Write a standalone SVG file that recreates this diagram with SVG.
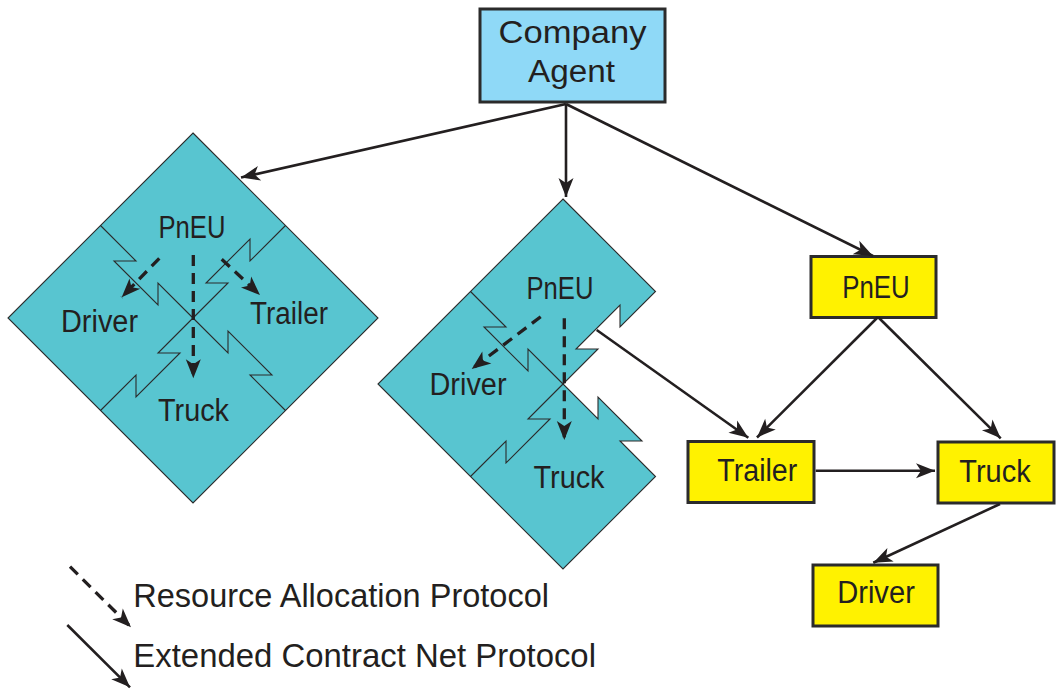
<svg xmlns="http://www.w3.org/2000/svg" width="1056" height="692" viewBox="0 0 1056 692">
<style>
.lbl{font-family:"Liberation Sans",Arial,sans-serif;font-size:31px;fill:#231f20;text-anchor:middle}
.leg{font-family:"Liberation Sans",Arial,sans-serif;font-size:33px;fill:#231f20}
.piece{fill:#58c5d0;stroke:#2b2b2b;stroke-width:1.1;stroke-linejoin:miter}
.seam{fill:none;stroke:#2b2b2b;stroke-width:1.1}
.box{stroke:#2b2b2b;stroke-width:3}
.solid{fill:none;stroke:#231f20;stroke-width:2.6;marker-end:url(#ah)}
.dash{fill:none;stroke:#231f20;stroke-width:3.3;stroke-dasharray:11 7;marker-end:url(#ah)}
</style>
<defs>
<marker id="ah" viewBox="-20 -9 21 18" refX="0" refY="0" markerWidth="21" markerHeight="18" markerUnits="userSpaceOnUse" orient="auto">
<path d="M0,0 L-19,-7.5 L-14,0 L-19,7.5 Z" fill="#231f20"/>
</marker>
</defs>
<rect width="1056" height="692" fill="#ffffff"/>

<g id="left-pneu-diamond" transform="translate(193,318)">
<polygon class="piece" points="0,-185 185,0 0,185 -185,0"/>
<path class="seam" d="M-92.5,-92.5 L-57,-57 L-79,-57 L-35,-13 L-35,-35 L0,0"/>
<path class="seam" d="M92.5,-92.5 L57,-57 L57,-79 L13,-35 L35,-35 L0,0"/>
<path class="seam" d="M0,0 L-35,35 L-13,35 L-57,79 L-57,57 L-92.5,92.5"/>
<path class="seam" d="M0,0 L35,35 L35,13 L79,57 L57,57 L92.5,92.5"/>
</g>
<g id="left-labels">
<text class="lbl" x="192" y="238.3" textLength="67" lengthAdjust="spacingAndGlyphs">PnEU</text>
<text class="lbl" x="99.5" y="331.7" textLength="77" lengthAdjust="spacingAndGlyphs">Driver</text>
<text class="lbl" x="289" y="324.3" textLength="78" lengthAdjust="spacingAndGlyphs">Trailer</text>
<text class="lbl" x="193.5" y="420.7" textLength="71" lengthAdjust="spacingAndGlyphs">Truck</text>
</g>

<g id="middle-pneu-shape" transform="translate(563,384)">
<path class="piece" d="M0,-185 L92.5,-92.5 L57,-57 L57,-79 L13,-35 L35,-35 L0,0 L35,35 L35,13 L79,57 L57,57 L92.5,92.5 L0,185 L-185,0 Z"/>
<path class="seam" d="M-92.5,-92.5 L-57,-57 L-79,-57 L-35,-13 L-35,-35 L0,0"/>
<path class="seam" d="M0,0 L-35,35 L-13,35 L-57,79 L-57,57 L-92.5,92.5"/>
</g>
<g id="middle-labels">
<text class="lbl" x="560" y="299.3" textLength="67" lengthAdjust="spacingAndGlyphs">PnEU</text>
<text class="lbl" x="468" y="395" textLength="77" lengthAdjust="spacingAndGlyphs">Driver</text>
<text class="lbl" x="569" y="487.7" textLength="71" lengthAdjust="spacingAndGlyphs">Truck</text>
</g>

<g id="company-agent">
<rect class="box" x="480" y="9" width="185" height="93" fill="#8fd9f7"/>
<text class="lbl" x="572.5" y="42.7" textLength="148" lengthAdjust="spacingAndGlyphs">Company</text>
<text class="lbl" x="571.5" y="81.7" textLength="87" lengthAdjust="spacingAndGlyphs">Agent</text>
</g>

<g id="pneu-box">
<rect class="box" x="811" y="256.5" width="125" height="61" fill="#fff200"/>
<text class="lbl" x="876" y="298.3" textLength="67.5" lengthAdjust="spacingAndGlyphs">PnEU</text>
</g>
<g id="trailer-box">
<rect class="box" x="688" y="441.5" width="126" height="61" fill="#fff200"/>
<text class="lbl" x="757.3" y="480.7" textLength="80" lengthAdjust="spacingAndGlyphs">Trailer</text>
</g>
<g id="truck-box">
<rect class="box" x="938" y="442" width="116" height="61" fill="#fff200"/>
<text class="lbl" x="995" y="481.7" textLength="71.4" lengthAdjust="spacingAndGlyphs">Truck</text>
</g>
<g id="driver-box">
<rect class="box" x="813" y="565" width="125" height="61" fill="#fff200"/>
<text class="lbl" x="876" y="603.3" textLength="77.7" lengthAdjust="spacingAndGlyphs">Driver</text>
</g>

<g id="connectors">
<line class="solid" x1="566" y1="104" x2="241" y2="177.5"/>
<line class="solid" x1="566" y1="104" x2="566" y2="197"/>
<line class="solid" x1="566" y1="104" x2="873" y2="256"/>
<line class="solid" x1="596.7" y1="330" x2="748.3" y2="437.7"/>
<line class="solid" x1="878" y1="317" x2="757" y2="437.5"/>
<line class="solid" x1="878" y1="317" x2="1000.7" y2="438.3"/>
<line class="solid" x1="815.7" y1="470.7" x2="935" y2="470.7"/>
<line class="solid" x1="1000" y1="504" x2="873.3" y2="562.7"/>
<line class="dash" x1="159.3" y1="258.3" x2="121.7" y2="297.3"/>
<line class="dash" x1="193.3" y1="255" x2="193.3" y2="378.3"/>
<line class="dash" x1="221.7" y1="259.3" x2="260" y2="295"/>
<line class="dash" x1="540.7" y1="316.7" x2="471.7" y2="369"/>
<line class="dash" x1="564.3" y1="318.3" x2="564.3" y2="440"/>
</g>

<g id="legend">
<line class="dash" x1="70" y1="566.7" x2="131" y2="627.3"/>
<line class="solid" x1="67.3" y1="625" x2="130" y2="687.3"/>
<text class="leg" x="133.3" y="607" textLength="415.7" lengthAdjust="spacingAndGlyphs">Resource Allocation Protocol</text>
<text class="leg" x="133.3" y="667" textLength="462.7" lengthAdjust="spacingAndGlyphs">Extended Contract Net Protocol</text>
</g>
</svg>
